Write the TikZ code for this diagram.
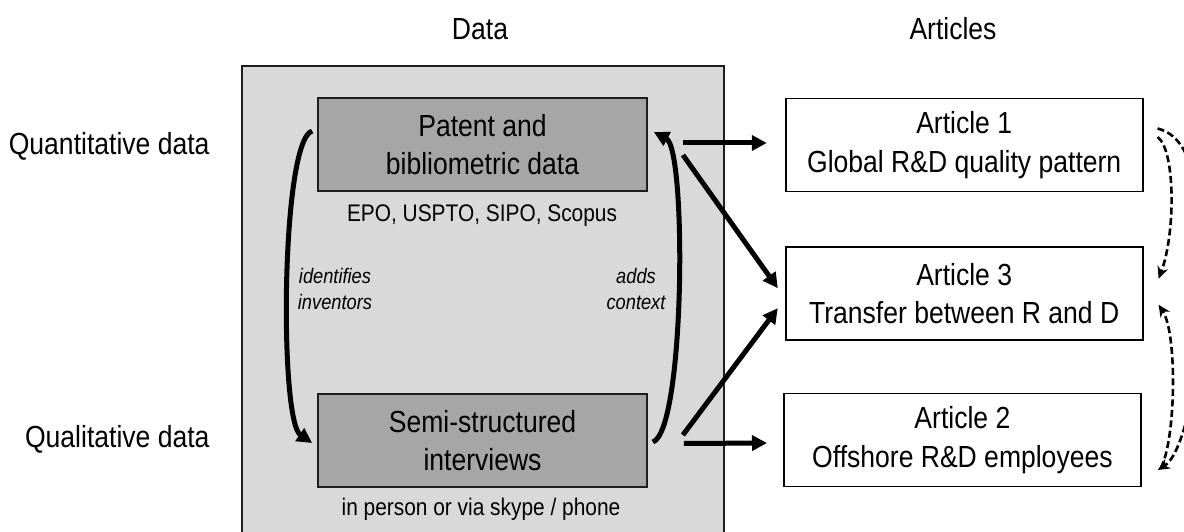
\documentclass[tikz,border=0pt]{standalone}
\usepackage{fontspec}
\setmainfont[FakeStretch=0.87]{Liberation Sans}
\usetikzlibrary{calc,arrows.meta}
\definecolor{outerfill}{RGB}{217,217,217}
\definecolor{innerfill}{RGB}{166,166,166}
\definecolor{edgecol}{RGB}{30,30,30}
\tikzset{
  bigtxt/.style={font=\fontsize{30.5}{38.5}\selectfont},
  smalltxt/.style={font=\fontsize{24}{29}\selectfont},
  itxt/.style={font=\fontsize{21}{25.7}\selectfont\itshape, align=center},
  outerbox/.style={draw=edgecol, line width=2pt, fill=outerfill, minimum width=482pt, minimum height=479pt, inner sep=0pt},
  databox/.style={draw=edgecol, line width=1.8pt, fill=innerfill, minimum width=329pt, minimum height=93pt, inner sep=0pt, align=center, bigtxt},
  artbox/.style={draw=black, line width=1.8pt, fill=white, minimum width=357pt, minimum height=93pt, inner sep=0pt, align=center, bigtxt},
  flow/.style={line width=5pt, -{Triangle[length=15pt,width=15pt]}},
  link/.style={line width=2.6pt, dash pattern=on 7pt off 3.5pt, -{Stealth[length=12pt,width=11pt]}},
  linkplain/.style={line width=2.6pt, dash pattern=on 7pt off 3.5pt}
}
\begin{document}
\begin{tikzpicture}[x=1pt,y=-1pt]
\useasboundingbox (0,0) rectangle (1184,532);
\clip (0,0) rectangle (1184,532);
% outer data panel
\node[outerbox] (outer) at (483,305.5) {};
% headings
\node[bigtxt, anchor=base] (hdata) at (480,40) {Data};
\node[bigtxt, anchor=base] (hart) at (953,39.3) {Articles};
\node[bigtxt, anchor=base east] (quant) at (213,155) {Quantitative data};
\node[bigtxt, anchor=base east] (qual) at (213,447) {Qualitative data};
% data boxes
\node[databox] (pat) at (482.5,144.5) {Patent and\\bibliometric data};
\node[databox] (semi) at (482.5,440.5) {Semi-structured\\interviews};
\node[smalltxt, anchor=base] (src1) at (482,221) {EPO, USPTO, SIPO, Scopus};
\node[smalltxt, anchor=base] (src2) at (481,515) {in person or via skype / phone};
\node[itxt] (lab1) at (335,289) {identifies\\inventors};
\node[itxt] (lab2) at (636,289) {adds\\context};
% article boxes
\node[artbox] (a1) at (964.2,145) {Article 1\\Global R\&D quality pattern};
\node[artbox] (a3) at (964.2,293.7) {Article 3\\Transfer between R and D};
\node[artbox] (a2) at (962.4,440) {Article 2\\Offshore R\&D employees};
% curved arrows between data boxes
\draw[flow] ($(pat.west)+(-5,-13.5)$) .. controls ($(pat.west)+(-36,-4)$) and ($(semi.west)+(-38,-20)$) .. ($(semi.west)+(-5,2.5)$);
\draw[flow] ($(semi.east)+(5,1.5)$) .. controls ($(semi.east)+(37,-10)$) and ($(pat.east)+(39,5)$) .. ($(pat.east)+(6,-12.5)$);
% arrows to articles
\draw[flow] ($(pat.east)+(35,-1.5)$) -- ($(a1.west)+(-18,-2)$);
\draw[flow] ($(pat.east)+(35,10.5)$) -- ($(a3.west)+(-7,-5.5)$);
\draw[flow] ($(semi.east)+(35,-5.5)$) -- ($(a3.west)+(-7,14.5)$);
\draw[flow] ($(semi.east)+(36,3)$) -- ($(a2.west)+(-16,3)$);
% dashed links between articles
\draw[link] ($(a1.east)+(14,-8)$) .. controls ($(a1.east)+(32,5)$) and ($(a3.east)+(32,-60)$) .. ($(a3.east)+(15,-15)$);
\draw[linkplain] ($(a1.east)+(14,-16.5)$) .. controls ($(a1.east)+(40,-10)$) and ($(a1.east)+(50,20)$) .. ($(a1.east)+(56,60)$);
\draw[link] ($(a2.east)+(19,28)$) .. controls ($(a2.east)+(34,0)$) and ($(a3.east)+(34,40)$) .. ($(a3.east)+(15,11)$);
\draw[link] ($(a3.east)+(60,50)$) .. controls ($(a2.east)+(50,-40)$) and ($(a2.east)+(40,15)$) .. ($(a2.east)+(16,30)$);
\end{tikzpicture}
\end{document}
